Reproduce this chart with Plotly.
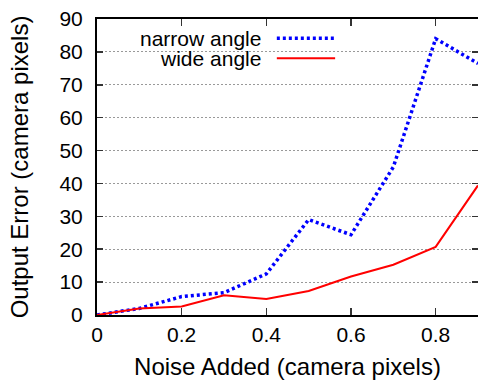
import plotly.graph_objects as go

noise = [0.0, 0.1, 0.2, 0.3, 0.4, 0.5, 0.6, 0.7, 0.8, 0.9]
narrow_angle = [0.0, 2.0, 5.6, 6.8, 12.5, 29.0, 24.4, 45.0, 84.0, 76.5]
wide_angle = [0.0, 2.0, 2.6, 6.0, 4.9, 7.3, 11.7, 15.3, 20.7, 39.4]
series_names = ["narrow angle", "wide angle"]
x_ticks = [0, 0.2, 0.4, 0.6, 0.8]
y_ticks = [0, 10, 20, 30, 40, 50, 60, 70, 80, 90]

FONT = "Liberation Sans, Arial, Helvetica, sans-serif"
FS = 20
BLUE = "#0000ff"
RED = "#ff0000"

fig = go.Figure()
fig.add_trace(go.Scatter(x=noise, y=narrow_angle, mode="lines", name=series_names[0],
                         line=dict(color=BLUE, width=3.5, dash="3px,3px"), showlegend=False))
fig.add_trace(go.Scatter(x=noise, y=wide_angle, mode="lines", name=series_names[1],
                         line=dict(color=RED, width=2), showlegend=False))
# invisible helper trace to realise right-hand mirror ticks
fig.add_trace(go.Scatter(x=noise, y=wide_angle, yaxis="y2", mode="lines",
                         line=dict(width=0), opacity=0, showlegend=False, hoverinfo="skip"))

# legend (gnuplot style: text left, sample right)
leg_text_x = 0.436
leg_line_x0, leg_line_x1 = 0.472, 0.625
leg_rows = [0.935, 0.867]
fig.add_shape(type="rect", xref="paper", yref="paper", x0=0.031, x1=0.659, y0=0.82, y1=0.985,
              fillcolor="white", line=dict(width=0), layer="between")
fig.add_shape(type="line", xref="paper", yref="paper", x0=leg_line_x0, x1=leg_line_x1,
              y0=leg_rows[0], y1=leg_rows[0], line=dict(color=BLUE, width=3.5, dash="3px,3px"))
fig.add_shape(type="line", xref="paper", yref="paper", x0=leg_line_x0, x1=leg_line_x1,
              y0=leg_rows[1], y1=leg_rows[1], line=dict(color=RED, width=2))
for name, yy in zip(series_names, leg_rows):
    fig.add_annotation(text=name, xref="paper", yref="paper", x=leg_text_x, y=yy,
                       xanchor="right", yanchor="middle", showarrow=False,
                       font=dict(family=FONT, size=FS + 1, color="black"))

fig.update_layout(
    width=478, height=380,
    margin=dict(l=97, r=0, t=19, b=65, autoexpand=False),
    paper_bgcolor="white", plot_bgcolor="white",
    font=dict(family=FONT, size=FS, color="black"),
    showlegend=False,
    xaxis=dict(range=[0, 0.9], tickvals=x_ticks, ticktext=[str(v) if v else "0" for v in x_ticks],
               ticks="inside", ticklen=7, tickwidth=1.5, tickcolor="#333",
               showline=True, linecolor="black", linewidth=2, mirror="ticks",
               showgrid=False, zeroline=False, automargin=False,
               tickfont=dict(size=FS + 1), ticklabeloverflow="allow",
               title=dict(text="Noise Added (camera pixels)", standoff=13)),
    yaxis=dict(range=[0, 90], tickvals=y_ticks,
               ticks="inside", ticklen=6, tickwidth=1.5, tickcolor="#333",
               showline=True, linecolor="black", linewidth=2, mirror=False,
               showgrid=True, gridcolor="#999999", gridwidth=1, griddash="2px,2px",
               zeroline=False, automargin=False,
               tickfont=dict(size=FS + 1), ticklabelstandoff=8, ticklabeloverflow="allow",
               title=dict(text="Output Error (camera pixels)", standoff=24)),
    yaxis2=dict(range=[0, 90], overlaying="y", side="right", tickvals=y_ticks,
                ticks="inside", ticklen=6, tickwidth=1.5, tickcolor="#333",
                showticklabels=False, showline=False, showgrid=False, zeroline=False,
                automargin=False),
)

fig.write_html("out.html", config={"displayModeBar": False, "staticPlot": True},
               post_script="document.body.style.margin='0';document.body.style.overflow='hidden';")
